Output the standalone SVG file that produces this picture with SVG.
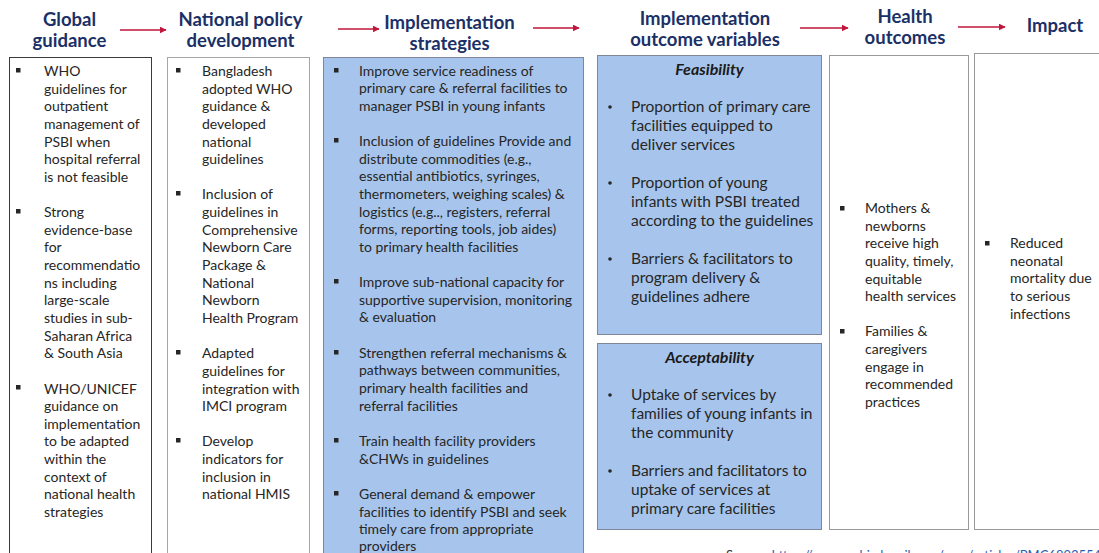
<svg xmlns="http://www.w3.org/2000/svg" width="1099" height="553" viewBox="0 0 1099 553">
<defs>
<marker id="ah" viewBox="0 0 10 10" refX="9" refY="5" markerWidth="7" markerHeight="7" markerUnits="userSpaceOnUse" orient="auto"><path d="M0,0 L10,5 L0,10 z" fill="#c0163b"/></marker>
<style>
.hd{font-family:Lato,"Liberation Sans",sans-serif;font-weight:bold;font-size:18.5px;fill:#1b3066;text-anchor:middle}
.t{font-family:Lato,"Liberation Sans",sans-serif;font-size:14px;fill:#262626}
.t2{font-family:Lato,"Liberation Sans",sans-serif;font-size:15.5px;fill:#262626}
.st{font-family:Lato,"Liberation Sans",sans-serif;font-size:16px;font-weight:bold;font-style:italic;fill:#1a1a1a;text-anchor:middle}
.b{fill:#262626}
.arr{stroke:#c0163b;stroke-width:1.5;fill:none;marker-end:url(#ah)}
.blue{fill:#a7c5ec;stroke:#7d8796;stroke-width:1}
.wbox{fill:#fff;stroke:#999;stroke-width:1}
.src{font-family:Lato,"Liberation Sans",sans-serif;font-size:13px;fill:#333}
.lnk{fill:#2a5db0}
</style>
</defs>
<rect width="1099" height="553" fill="#fff"/>

<g id="headers">
<text class="hd" x="69.5" y="26">Global</text>
<text class="hd" x="69.5" y="47">guidance</text>
<text class="hd" x="240.5" y="26">National policy</text>
<text class="hd" x="240.5" y="47">development</text>
<text class="hd" x="449.5" y="29">Implementation</text>
<text class="hd" x="449.5" y="50">strategies</text>
<text class="hd" x="705" y="25">Implementation</text>
<text class="hd" x="705" y="46">outcome variables</text>
<text class="hd" x="905" y="23">Health</text>
<text class="hd" x="905" y="44">outcomes</text>
<text class="hd" x="1055" y="32">Impact</text>
</g>

<g id="connectors">
<line class="arr" x1="120" y1="30" x2="166" y2="30"/>
<line class="arr" x1="338" y1="29" x2="379" y2="29"/>
<line class="arr" x1="533" y1="28" x2="579" y2="28"/>
<line class="arr" x1="800" y1="28" x2="848" y2="28"/>
<line class="arr" x1="958" y1="27" x2="1005" y2="27"/>
</g>

<g id="global-guidance">
<rect x="9.5" y="57.5" width="142" height="510" fill="#fff" stroke="#3a3a3a" stroke-width="1"/>
<rect class="b" x="16" y="68" width="4.5" height="4.5"/>
<rect class="b" x="16" y="209" width="4.5" height="4.5"/>
<rect class="b" x="16" y="385" width="4.5" height="4.5"/>
<text class="t" x="44" y="76">
<tspan x="44" dy="0">WHO</tspan>
<tspan x="44" dy="17.64">guidelines for</tspan>
<tspan x="44" dy="17.64">outpatient</tspan>
<tspan x="44" dy="17.64">management of</tspan>
<tspan x="44" dy="17.64">PSBI when</tspan>
<tspan x="44" dy="17.64">hospital referral</tspan>
<tspan x="44" dy="17.64">is not feasible</tspan>
<tspan x="44" dy="35.28">Strong</tspan>
<tspan x="44" dy="17.64">evidence-base</tspan>
<tspan x="44" dy="17.64">for</tspan>
<tspan x="44" dy="17.64">recommendatio</tspan>
<tspan x="44" dy="17.64">ns including</tspan>
<tspan x="44" dy="17.64">large-scale</tspan>
<tspan x="44" dy="17.64">studies in sub-</tspan>
<tspan x="44" dy="17.64">Saharan Africa</tspan>
<tspan x="44" dy="17.64">&amp; South Asia</tspan>
<tspan x="44" dy="35.28">WHO/UNICEF</tspan>
<tspan x="44" dy="17.64">guidance on</tspan>
<tspan x="44" dy="17.64">implementation</tspan>
<tspan x="44" dy="17.64">to be adapted</tspan>
<tspan x="44" dy="17.64">within the</tspan>
<tspan x="44" dy="17.64">context of</tspan>
<tspan x="44" dy="17.64">national health</tspan>
<tspan x="44" dy="17.64">strategies</tspan>
</text>
</g>

<g id="national-policy">
<rect x="167.5" y="57.5" width="142" height="510" fill="#fff" stroke="#a6a6a6" stroke-width="1"/>
<rect class="b" x="176" y="68" width="4.5" height="4.5"/>
<rect class="b" x="176" y="191" width="4.5" height="4.5"/>
<rect class="b" x="176" y="350" width="4.5" height="4.5"/>
<rect class="b" x="176" y="438" width="4.5" height="4.5"/>
<text class="t" x="202" y="76">
<tspan x="202" dy="0">Bangladesh</tspan>
<tspan x="202" dy="17.64">adopted WHO</tspan>
<tspan x="202" dy="17.64">guidance &amp;</tspan>
<tspan x="202" dy="17.64">developed</tspan>
<tspan x="202" dy="17.64">national</tspan>
<tspan x="202" dy="17.64">guidelines</tspan>
<tspan x="202" dy="35.28">Inclusion of</tspan>
<tspan x="202" dy="17.64">guidelines in</tspan>
<tspan x="202" dy="17.64">Comprehensive</tspan>
<tspan x="202" dy="17.64">Newborn Care</tspan>
<tspan x="202" dy="17.64">Package &amp;</tspan>
<tspan x="202" dy="17.64">National</tspan>
<tspan x="202" dy="17.64">Newborn</tspan>
<tspan x="202" dy="17.64">Health Program</tspan>
<tspan x="202" dy="35.28">Adapted</tspan>
<tspan x="202" dy="17.64">guidelines for</tspan>
<tspan x="202" dy="17.64">integration with</tspan>
<tspan x="202" dy="17.64">IMCI program</tspan>
<tspan x="202" dy="35.28">Develop</tspan>
<tspan x="202" dy="17.64">indicators for</tspan>
<tspan x="202" dy="17.64">inclusion in</tspan>
<tspan x="202" dy="17.64">national HMIS</tspan>
</text>
</g>

<g id="implementation-strategies">
<rect class="blue" x="323.5" y="57.5" width="260" height="510"/>
<rect class="b" x="334" y="68" width="4.5" height="4.5"/>
<rect class="b" x="334" y="138" width="4.5" height="4.5"/>
<rect class="b" x="334" y="279" width="4.5" height="4.5"/>
<rect class="b" x="334" y="350" width="4.5" height="4.5"/>
<rect class="b" x="334" y="438" width="4.5" height="4.5"/>
<rect class="b" x="334" y="491" width="4.5" height="4.5"/>
<text class="t" x="359" y="75.5">
<tspan x="359" dy="0">Improve service readiness of</tspan>
<tspan x="359" dy="17.64">primary care &amp; referral facilities to</tspan>
<tspan x="359" dy="17.64">manager PSBI in young infants</tspan>
<tspan x="359" dy="35.28">Inclusion of guidelines Provide and</tspan>
<tspan x="359" dy="17.64">distribute commodities  (e.g.,</tspan>
<tspan x="359" dy="17.64">essential antibiotics, syringes,</tspan>
<tspan x="359" dy="17.64">thermometers, weighing scales) &amp;</tspan>
<tspan x="359" dy="17.64">logistics  (e.g.., registers, referral</tspan>
<tspan x="359" dy="17.64">forms, reporting tools, job aides)</tspan>
<tspan x="359" dy="17.64">to primary health facilities</tspan>
<tspan x="359" dy="35.28">Improve sub-national capacity for</tspan>
<tspan x="359" dy="17.64">supportive supervision, monitoring</tspan>
<tspan x="359" dy="17.64">&amp; evaluation</tspan>
<tspan x="359" dy="35.28">Strengthen referral mechanisms &amp;</tspan>
<tspan x="359" dy="17.64">pathways between communities,</tspan>
<tspan x="359" dy="17.64">primary health facilities and</tspan>
<tspan x="359" dy="17.64">referral facilities</tspan>
<tspan x="359" dy="35.28">Train health facility providers</tspan>
<tspan x="359" dy="17.64">&amp;CHWs in guidelines</tspan>
<tspan x="359" dy="35.28">General demand &amp; empower</tspan>
<tspan x="359" dy="17.64">facilities to identify PSBI and seek</tspan>
<tspan x="359" dy="17.64">timely care from appropriate</tspan>
<tspan x="359" dy="17.3">providers</tspan>
</text>
</g>

<g id="feasibility">
<rect class="blue" x="597.5" y="55.5" width="224" height="279"/>
<text class="st" x="709.5" y="75">Feasibility</text>
<circle class="b" cx="610" cy="107" r="1.8"/>
<circle class="b" cx="610" cy="183" r="1.8"/>
<circle class="b" cx="610" cy="259" r="1.8"/>
<text class="t2" x="631" y="112">
<tspan x="631" dy="0">Proportion of primary care</tspan>
<tspan x="631" dy="19">facilities equipped to</tspan>
<tspan x="631" dy="19">deliver services</tspan>
<tspan x="631" dy="38">Proportion of young</tspan>
<tspan x="631" dy="19">infants with PSBI treated</tspan>
<tspan x="631" dy="19">according to the guidelines</tspan>
<tspan x="631" dy="38">Barriers &amp; facilitators to</tspan>
<tspan x="631" dy="19">program delivery &amp;</tspan>
<tspan x="631" dy="19">guidelines adhere</tspan>
</text>
</g>

<g id="acceptability">
<rect class="blue" x="597.5" y="343.5" width="224" height="186"/>
<text class="st" x="709.5" y="363">Acceptability</text>
<circle class="b" cx="610" cy="395" r="1.8"/>
<circle class="b" cx="610" cy="471" r="1.8"/>
<text class="t2" x="631" y="400">
<tspan x="631" dy="0">Uptake of services by</tspan>
<tspan x="631" dy="19">families of young infants in</tspan>
<tspan x="631" dy="19">the community</tspan>
<tspan x="631" dy="38">Barriers and facilitators to</tspan>
<tspan x="631" dy="19">uptake of services at</tspan>
<tspan x="631" dy="19">primary care facilities</tspan>
</text>
</g>

<g id="health-outcomes">
<rect class="wbox" x="829.5" y="55.5" width="139" height="474"/>
<rect class="b" x="840" y="206" width="4.5" height="4.5"/>
<rect class="b" x="840" y="329" width="4.5" height="4.5"/>
<text class="t" x="865" y="213">
<tspan x="865" dy="0">Mothers &amp;</tspan>
<tspan x="865" dy="17.64">newborns</tspan>
<tspan x="865" dy="17.64">receive high</tspan>
<tspan x="865" dy="17.64">quality, timely,</tspan>
<tspan x="865" dy="17.64">equitable</tspan>
<tspan x="865" dy="17.64">health services</tspan>
<tspan x="865" dy="35.28">Families &amp;</tspan>
<tspan x="865" dy="17.64">caregivers</tspan>
<tspan x="865" dy="17.64">engage in</tspan>
<tspan x="865" dy="17.64">recommended</tspan>
<tspan x="865" dy="17.64">practices</tspan>
</text>
</g>

<g id="impact">
<rect class="wbox" x="974.5" y="53.5" width="140" height="476"/>
<rect class="b" x="985" y="241" width="4.5" height="4.5"/>
<text class="t" x="1010" y="248">
<tspan x="1010" dy="0">Reduced</tspan>
<tspan x="1010" dy="17.64">neonatal</tspan>
<tspan x="1010" dy="17.64">mortality due</tspan>
<tspan x="1010" dy="17.64">to serious</tspan>
<tspan x="1010" dy="17.64">infections</tspan>
</text>
</g>

<text class="src" x="726" y="560">Source: <tspan class="lnk">https://www.ncbi.nlm.nih.gov/pmc/articles/PMC6893554</tspan></text>
</svg>
